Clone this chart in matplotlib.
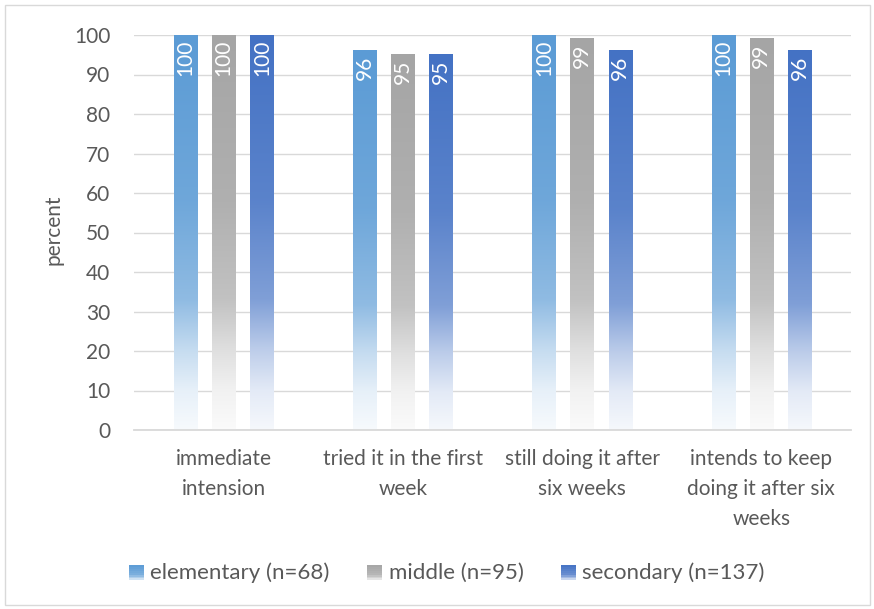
import numpy as np
import matplotlib
matplotlib.use("Agg")
import matplotlib.pyplot as plt
from matplotlib.patches import Rectangle
from matplotlib.legend_handler import HandlerBase
from matplotlib.colors import to_rgb

plt.rcParams["font.family"] = ["Lato", "DejaVu Sans"]

categories = ["immediate\nintension", "tried it in the first\nweek",
              "still doing it after\nsix weeks",
              "intends to keep\ndoing it after six\nweeks"]
series_names = ["elementary (n=68)", "middle (n=95)", "secondary (n=137)"]
elementary = [100, 96, 100, 100]
middle = [100, 95, 99, 99]
secondary = [100, 95, 96, 96]
colors = ["#5B9BD5", "#A5A5A5", "#4472C4"]

# fade profile of the bar fill, bottom (0) to top (1)
fade_t = [0.0, 0.1, 0.2, 0.33, 0.58, 1.0]
fade_a = [0.05, 0.15, 0.35, 0.68, 0.88, 1.0]
text_col = "#595959"
grid_col = "#D9D9D9"
fs = 15


def gradient_rgba(color, n=200):
    t = np.linspace(0, 1, n)
    a = np.interp(t, fade_t, fade_a)
    rgb = np.array(to_rgb(color))
    img = 1 - a[:, None] * (1 - rgb[None, :])
    return img[::-1, None, :]


class GradientHandler(HandlerBase):
    def create_artists(self, legend, orig_handle, xdescent, ydescent,
                       width, height, fontsize, trans):
        size = height * 0.95
        x0 = xdescent + width - size
        y0 = -ydescent + (height - size) / 2 - 1
        n = 8
        arts = []
        col = orig_handle.get_facecolor()
        rgb = np.array(col[:3])
        for k in range(n):
            t = (k + 0.5) / n
            a = np.interp(t, [0, 0.4, 1], [0.2, 0.8, 1.0])
            c = 1 - a * (1 - rgb)
            arts.append(Rectangle((x0, y0 + size * k / n), size, size / n + 0.1,
                                  facecolor=c, edgecolor="none", transform=trans))
        return arts


fig = plt.figure(figsize=(8.74, 6.09), dpi=100)
W, H = 874, 609
ax = fig.add_axes([134 / W, (H - 430) / H, 717 / W, 395 / H])

x = np.arange(len(categories))
width = 0.13
offset = 0.213
data = [elementary, middle, secondary]
handles = []
for j, vals in enumerate(data):
    for i, v in enumerate(vals):
        xc = x[i] + (j - 1) * offset
        ax.imshow(gradient_rgba(colors[j]), extent=[xc - width / 2, xc + width / 2, 0, v],
                  aspect="auto", interpolation="bilinear", zorder=2)
        ax.annotate(str(v), (xc, v), xytext=(0, -3.5), textcoords="offset points",
                    rotation=90, ha="center", va="top", color="white", fontsize=fs,
                    zorder=3)
    handles.append(Rectangle((0, 0), 1, 1, facecolor=colors[j]))

ax.set_xlim(-0.5, len(categories) - 0.5)
ax.set_ylim(0, 100)
ax.set_yticks(np.arange(0, 101, 10))
ax.grid(axis="y", color=grid_col, lw=1, zorder=0)
ax.set_axisbelow(True)
for s in ["top", "right", "left"]:
    ax.spines[s].set_visible(False)
ax.spines["bottom"].set_color(grid_col)
ax.spines["bottom"].set_linewidth(1.3)
ax.tick_params(axis="y", length=0, pad=17, labelsize=fs, labelcolor=text_col)
ax.set_xticks(x)
ax.set_xticklabels(categories, linespacing=1.62)
ax.tick_params(axis="x", length=0, pad=14, labelsize=fs, labelcolor=text_col)
ax.set_ylabel("percent", fontsize=fs, color=text_col)
ax.yaxis.set_label_coords(-0.098, 0.506)

fig.legend(handles, series_names, handler_map={Rectangle: GradientHandler()},
           loc="center", bbox_to_anchor=(446 / W, (H - 573) / H), ncol=3,
           frameon=False, fontsize=16, labelcolor=text_col, handlelength=0.75,
           handletextpad=0.3, columnspacing=1.6)

fig.patches.append(Rectangle((4.5 / W, 4.5 / H), 865 / W, 600 / H, transform=fig.transFigure,
                             facecolor="none", edgecolor=grid_col, lw=1))

fig.savefig("out.png", dpi=100)
